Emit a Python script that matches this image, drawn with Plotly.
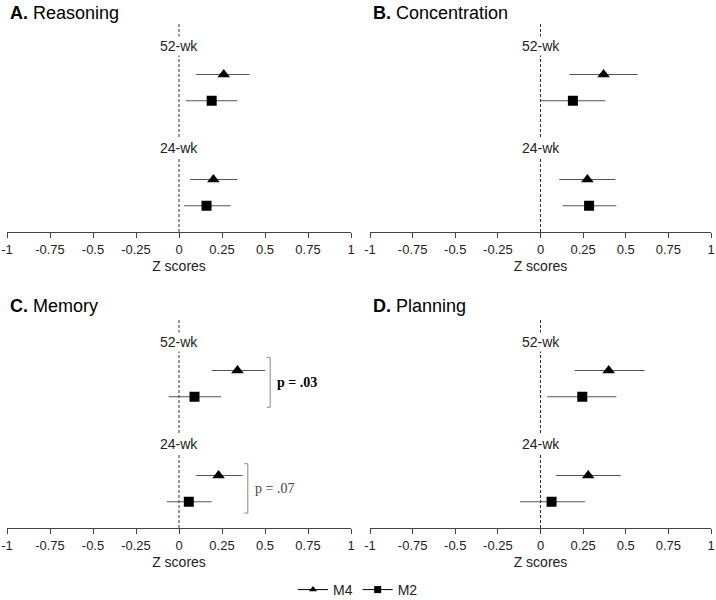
import plotly.graph_objects as go
from plotly.subplots import make_subplots

# ── Data (Z scores) ──
panel_letters = ["A.", "B.", "C.", "D."]
panel_names = ["Reasoning", "Concentration", "Memory", "Planning"]
timepoints = ["52-wk", "24-wk"]
x_ticks = [-1, -0.75, -0.5, -0.25, 0, 0.25, 0.5, 0.75, 1]
x_tick_labels = ["-1", "-0.75", "-0.5", "-0.25", "0", "0.25", "0.5", "0.75", "1"]

m4_52_mean = [0.26, 0.37, 0.34, 0.40]
m4_52_lo = [0.10, 0.17, 0.19, 0.20]
m4_52_hi = [0.41, 0.57, 0.50, 0.61]
m2_52_mean = [0.19, 0.19, 0.09, 0.245]
m2_52_lo = [0.04, 0.00, -0.06, 0.04]
m2_52_hi = [0.34, 0.38, 0.245, 0.445]

m4_24_mean = [0.20, 0.275, 0.23, 0.28]
m4_24_lo = [0.065, 0.11, 0.10, 0.09]
m4_24_hi = [0.34, 0.44, 0.37, 0.47]
m2_24_mean = [0.16, 0.285, 0.057, 0.065]
m2_24_lo = [0.03, 0.13, -0.07, -0.12]
m2_24_hi = [0.30, 0.445, 0.19, 0.26]

# Memory panel p-values (52-wk, 24-wk)
p_labels = ["p = .03", "p = .07"]

# ── Row layout inside each panel (vertical slots) ──
ROW_LABEL = [7.1, 3.2]
ROW_M4 = [6.0, 2.0]
ROW_M2 = [5.0, 1.0]
Y_TOP = 8.0

FONT = "Liberation Sans, Arial, sans-serif"
SERIF = "Liberation Serif, Times New Roman, serif"
BAR_COLOR = "#555555"

fig = make_subplots(rows=2, cols=2)

x_domains = [[7 / 716, 351 / 716], [370 / 716, 711 / 716]]
y_domains = [[1 - 232 / 600, 1 - 22 / 600], [1 - 528 / 600, 1 - 318 / 600]]
title_y = [1 - 13 / 600, 1 - 306 / 600]

for i in range(4):
    r, c = i // 2 + 1, i % 2 + 1

    m4_x = [m4_52_mean[i], m4_24_mean[i]]
    m4_plus = [m4_52_hi[i] - m4_52_mean[i], m4_24_hi[i] - m4_24_mean[i]]
    m4_minus = [m4_52_mean[i] - m4_52_lo[i], m4_24_mean[i] - m4_24_lo[i]]
    m2_x = [m2_52_mean[i], m2_24_mean[i]]
    m2_plus = [m2_52_hi[i] - m2_52_mean[i], m2_24_hi[i] - m2_24_mean[i]]
    m2_minus = [m2_52_mean[i] - m2_52_lo[i], m2_24_mean[i] - m2_24_lo[i]]

    fig.add_trace(
        go.Scatter(
            x=m4_x, y=ROW_M4, mode="markers",
            marker=dict(symbol="triangle-up", size=11, color="black"),
            error_x=dict(type="data", array=m4_plus, arrayminus=m4_minus,
                         width=0, thickness=1, color=BAR_COLOR),
            showlegend=False, name="M4",
        ),
        row=r, col=c,
    )
    fig.add_trace(
        go.Scatter(
            x=m2_x, y=ROW_M2, mode="markers",
            marker=dict(symbol="square", size=10, color="black"),
            error_x=dict(type="data", array=m2_plus, arrayminus=m2_minus,
                         width=0, thickness=1, color=BAR_COLOR),
            showlegend=False, name="M2",
        ),
        row=r, col=c,
    )

    xa = "x" if i == 0 else f"x{i + 1}"
    ya = "y" if i == 0 else f"y{i + 1}"

    # dashed zero line
    fig.add_shape(type="line", xref=xa, yref=ya, x0=0, x1=0, y0=0, y1=Y_TOP,
                  line=dict(color="#333333", width=1, dash="3px,2px"), layer="below")

    # time-point labels
    for lab, yy in zip(timepoints, ROW_LABEL):
        fig.add_annotation(x=0, y=yy, xref=xa, yref=ya, text=lab, showarrow=False,
                           bgcolor="white",
                           font=dict(family=FONT, size=14, color="#222222"))

    # panel title
    fig.add_annotation(
        x=x_domains[c - 1][0] + 0.001, y=title_y[r - 1],
        xref="paper", yref="paper", xanchor="left", yanchor="middle",
        text=f"<b>{panel_letters[i]}</b> {panel_names[i]}", showarrow=False,
        font=dict(family=FONT, size=18, color="black"),
    )

    fig.update_xaxes(
        domain=x_domains[c - 1], range=[-1, 1], tickvals=x_ticks, ticktext=x_tick_labels,
        showline=True, linecolor="#444444", linewidth=1, ticks="outside", ticklen=5,
        tickcolor="#444444", showgrid=False, zeroline=False, automargin=False,
        tickfont=dict(family=FONT, size=13, color="#222222"),
        title=dict(text="Z scores", font=dict(family=FONT, size=14, color="#222222"), standoff=5),
        row=r, col=c,
    )
    fig.update_yaxes(
        domain=y_domains[r - 1], range=[0, Y_TOP], visible=False, showgrid=False,
        automargin=False, row=r, col=c,
    )

# ── Memory panel brackets and p-values ──
bracket_x = [0.53, 0.40]
bracket_y = [[4.6, 6.5], [0.57, 2.45]]
for k in range(2):
    bx = bracket_x[k]
    y0, y1 = bracket_y[k]
    fig.add_shape(
        type="path", xref="x3", yref="y3",
        path=f"M {bx - 0.02},{y1} L {bx},{y1} L {bx},{y0} L {bx - 0.02},{y0}",
        line=dict(color="#888888", width=1),
    )
    fig.add_annotation(
        x=bx + 0.03, y=(y0 + y1) / 2, xref="x3", yref="y3", xanchor="left",
        text=f"<b>{p_labels[k]}</b>" if k == 0 else p_labels[k], showarrow=False,
        font=dict(family=SERIF, size=14, color="black" if k == 0 else "#444444"),
    )

# ── Legend-only traces ──
fig.add_trace(go.Scatter(x=[None], y=[None], mode="lines+markers", name="M4",
                         marker=dict(symbol="triangle-up", size=7, color="black"),
                         line=dict(color="black", width=1)), row=1, col=1)
fig.add_trace(go.Scatter(x=[None], y=[None], mode="lines+markers", name="M2",
                         marker=dict(symbol="square", size=7, color="black"),
                         line=dict(color="black", width=1)), row=1, col=1)

fig.update_layout(
    width=716, height=600,
    paper_bgcolor="white", plot_bgcolor="white",
    margin=dict(l=0, r=0, t=0, b=0, autoexpand=False),
    font=dict(family=FONT, color="#222222"),
    showlegend=True,
    legend=dict(orientation="h", x=0.5, xanchor="center", y=1 - 590 / 600, yanchor="middle",
                font=dict(family=FONT, size=14, color="#222222"), itemwidth=30,
                bgcolor="rgba(0,0,0,0)"),
)

# page body margin would shift the 716x600 figure; drop it
fig.write_html(
    "out.html",
    config={"displayModeBar": False},
    post_script="document.body.style.margin='0';document.body.style.overflow='hidden';",
)
